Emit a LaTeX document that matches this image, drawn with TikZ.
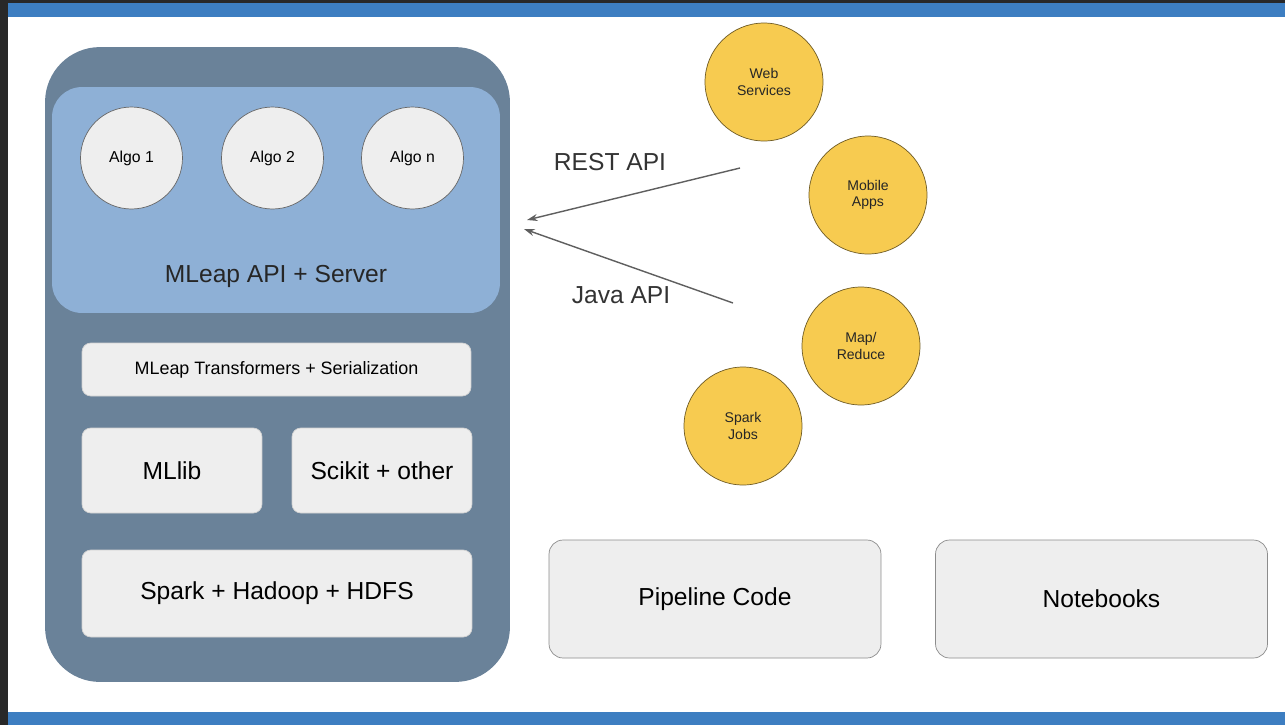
\documentclass[tikz,border=0pt]{standalone}
\usepackage{fontspec}
\setmainfont{Liberation Sans}
\usetikzlibrary{arrows.meta,positioning}
\definecolor{stackslate}{RGB}{106,130,153}
\definecolor{serverblue}{RGB}{142,176,214}
\definecolor{layergray}{RGB}{238,238,238}
\definecolor{clientyellow}{RGB}{247,203,80}
\definecolor{barblue}{RGB}{61,126,193}
\definecolor{edgedark}{RGB}{40,40,40}
\definecolor{arrowgray}{RGB}{95,95,95}

\tikzset{
  algo/.style={circle, fill=layergray, draw=black!60, minimum size=2.04cm, inner sep=0pt, font=\fontsize{9}{10}\selectfont},
  client/.style={circle, fill=clientyellow, draw=clientyellow!45!black, minimum size=2.36cm, inner sep=0pt, align=center, font=\fontsize{8}{9.5}\selectfont, text=black!85},
  layer/.style={rounded corners=5pt, fill=layergray, draw=black!18, inner sep=0pt, font=\fontsize{14}{16}\selectfont},
  tool/.style={rounded corners=8pt, fill=layergray, draw=black!45, minimum width=6.64cm, minimum height=2.36cm, inner sep=0pt, font=\fontsize{14}{16}\selectfont},
  apiarrow/.style={arrowgray, line width=0.8pt, -{Stealth[length=6pt,width=4pt]}}
}

\begin{document}
\begin{tikzpicture}[x=0.02cm, y=-0.02cm]
\useasboundingbox (0,0) rectangle (1285,725);
% Frame
\fill[white] (0,0) rectangle (1285,725);
\fill[edgedark] (0,0) rectangle (1285,3);
\fill[barblue] (0,3) rectangle (1285,17);
\fill[barblue] (0,712) rectangle (1285,725);
\fill[edgedark] (0,0) rectangle (8,725);

% MLeap stack
\node[rounded corners=1.1cm, fill=stackslate, minimum width=9.3cm, minimum height=12.7cm] (stack) at (277.5,364.5) {};
\node[rounded corners=0.6cm, fill=serverblue, minimum width=8.96cm, minimum height=4.52cm] (server) at (276,200) {};
\node[font=\fontsize{14}{16}\selectfont, text=black!85] (serverlabel) at (276,276) {MLeap API + Server};

% Algorithms
\node[algo] (algo1) at (131.5,158) {Algo 1};
\node[algo] (algo2) at (272.5,158) {Algo 2};
\node[algo] (algon) at (412.5,158) {Algo n};

% Layers
\node[layer, minimum width=7.78cm, minimum height=1.06cm, font=\fontsize{10.2}{12}\selectfont] (transformers) at (276.5,369.5) {MLeap Transformers + Serialization};
\node[layer, minimum width=3.6cm, minimum height=1.7cm] (mllib) at (172,470.5) {MLlib};
\node[layer, minimum width=3.6cm, minimum height=1.7cm] (scikit) at (382,470.5) {Scikit + other};
\node[layer, minimum width=7.8cm, minimum height=1.74cm] (spark) at (277,593.5) {Spark + Hadoop + HDFS};

% Clients
\node[client] (web) at (764,82) {Web\\Services};
\node[client] (mobile) at (868,195) {Mobile\\Apps};
\node[client] (mapreduce) at (861,346) {Map/\\Reduce};
\node[client] (sparkjobs) at (743,426) {Spark\\Jobs};

% APIs
\coordinate (restfrom) at (740,168);
\coordinate (restto) at (527,220);
\coordinate (javafrom) at (733,303);
\coordinate (javato) at (524,229);
\draw[apiarrow] (restfrom) -- (restto);
\draw[apiarrow] (javafrom) -- (javato);
\node[font=\fontsize{14}{16}\selectfont, text=black!80] (restlabel) at (610,162) {REST API};
\node[font=\fontsize{14}{16}\selectfont, text=black!80] (javalabel) at (621,295) {Java API};

% Tools
\node[tool] (pipeline) at (715,599) {Pipeline Code};
\node[tool] (notebooks) at (1101.5,599) {Notebooks};
\end{tikzpicture}
\end{document}
